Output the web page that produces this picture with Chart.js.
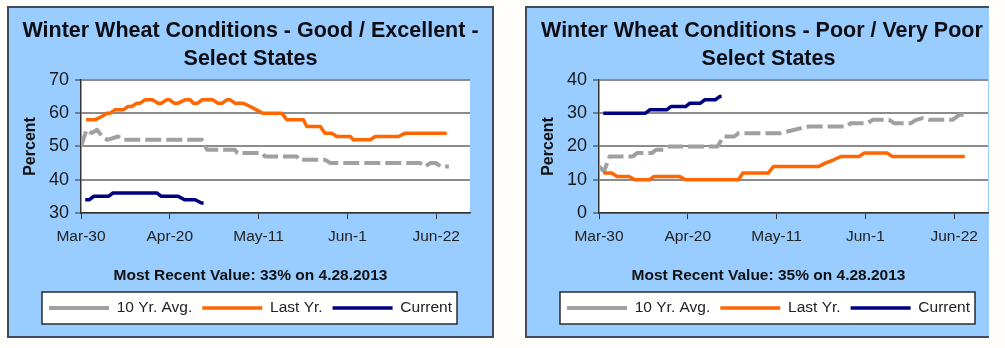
<!DOCTYPE html>
<html>
<head>
<meta charset="utf-8">
<title>Winter Wheat Conditions</title>
<script src="https://cdn.jsdelivr.net/npm/chart.js@4.4.1/dist/chart.umd.min.js"></script>
<style>
    body {
        margin: 0;
        width: 1005px;
        height: 348px;
        overflow: hidden;
        position: relative;
        background: #fffefb;
    }
    .clip {
        position: absolute;
        top: 6px;
        height: 332px;
        overflow: hidden;
    }
    .panel {
        position: absolute;
        left: 0;
        top: 0;
        width: 483px;
        height: 328px;
        background: #99ccff;
        border: 2px solid #3d4b5c;
    }
    .panel canvas { display: block; }
</style>
</head>
<body>
<div class="clip" style="left:7px; width:487px;">
    <div class="panel"><canvas id="goodChart" width="483" height="328"></canvas></div>
</div>
<div class="clip" style="left:525px; width:464px;">
    <div class="panel"><canvas id="poorChart" width="483" height="328"></canvas></div>
</div>
<script>
// x positions are days after Mar-30
const xTickDays = [0, 21, 42, 63, 84];
const xTickLabels = ['Mar-30', 'Apr-20', 'May-11', 'Jun-1', 'Jun-22'];

// Good / Excellent
const goodAvgDays = [0, 1.3, 2.5, 3.8, 5, 6.2, 8.8, 10, 28.6, 29.8, 36.4, 37, 42.8, 43.5, 51, 51.5, 57.7, 59, 80.2, 81.4, 82.6, 84, 85, 87];
const goodAvg     = [50, 55, 54, 55, 53, 52, 53, 52, 52, 49, 49, 48, 48, 47, 47, 46, 46, 45, 45, 44, 45, 45, 44, 44];
const goodLastDays = [1.2, 3.3, 4.9, 6.1, 6.9, 8, 10, 11.1, 12, 13.2, 14, 15.1, 17, 18.2, 19, 20.3, 21, 22, 23, 24.6, 25.8, 26.6, 27.6, 28.6, 31.2, 32.4, 33.4, 34.5, 35.3, 36.4, 38.3, 40, 41.5, 43, 47.5, 48.7, 52.6, 53.4, 56.6, 57.7, 59.3, 60.5, 63.7, 64.4, 68.4, 69.6, 75.1, 76.7, 86.5];
const goodLast     = [58, 58, 59, 60, 60, 61, 61, 62, 62, 63, 63, 64, 64, 63, 63, 64, 64, 63, 63, 64, 64, 63, 63, 64, 64, 63, 63, 64, 64, 63, 63, 62, 61, 60, 60, 58, 58, 56, 56, 54, 54, 53, 53, 52, 52, 53, 53, 54, 54];
const goodCurDays = [1, 2, 3, 6.5, 7.5, 18, 19, 23, 24.5, 27, 28.5, 29];
const goodCur     = [34, 34, 35, 35, 36, 36, 35, 35, 34, 34, 33, 33];

// Poor / Very Poor
const poorAvgDays = [0, 1.2, 2.5, 8, 9, 12.5, 13.5, 15.5, 16.5, 28, 29.5, 32, 33, 43, 44.6, 47.8, 49.7, 58.4, 59.6, 63.5, 64.7, 68.6, 69.8, 73.8, 75, 76.6, 78.1, 83.6, 85.2, 87];
const poorAvg     = [14, 12.5, 17, 17, 18, 18, 19, 19, 20, 20, 23, 23, 24, 24, 24.5, 25.5, 26, 26, 27, 27, 28, 28, 27, 27, 28, 28.5, 28, 28, 29.5, 29.5];
const poorLastDays = [1, 3, 4.3, 7, 8.5, 12, 13, 19, 20.5, 33, 34, 40, 41.3, 52, 53.5, 55.5, 57.3, 61.5, 62.7, 68.2, 69.3, 86.5];
const poorLast     = [12, 12, 11, 11, 10, 10, 11, 11, 10, 10, 12, 12, 14, 14, 15, 16, 17, 17, 18, 18, 17, 17];
const poorCurDays = [1, 11, 12, 16, 17, 20.5, 21.5, 24, 25, 27.5, 28.5, 29];
const poorCur     = [30, 30, 31, 31, 32, 32, 33, 33, 34, 34, 35, 35];

const FONT = 'Arial, "Liberation Sans", Helvetica, sans-serif';
const AVG_COLOR = '#a0a0a0';
const LAST_COLOR = '#ff6600';
const CUR_COLOR = '#000080';

const toPoints = (days, vals) => days.map((d, i) => ({ x: d, y: vals[i] }));

// white plot area and the framed legend box
const panelBackground = {
    id: 'panelBackground',
    beforeDraw(chart) {
        const { ctx, chartArea, legend } = chart;
        ctx.save();
        ctx.fillStyle = '#ffffff';
        ctx.fillRect(chartArea.left, chartArea.top, chartArea.right - chartArea.left, chartArea.bottom - chartArea.top);

        const boxes = legend.legendHitBoxes;
        if (boxes && boxes.length) {
            const left = Math.min(...boxes.map(b => b.left)) - 7;
            const right = Math.max(...boxes.map(b => b.left + b.width)) + 5;
            const mid = boxes[0].top + boxes[0].height / 2;
            ctx.fillRect(left, mid - 16, right - left, 32);
            ctx.strokeStyle = '#2b2b2b';
            ctx.lineWidth = 1.5;
            ctx.strokeRect(left, mid - 16, right - left, 32);
        }
        ctx.restore();
    }
};

function buildChart(canvasId, cfg) {
    const canvas = document.getElementById(canvasId);
    return new Chart(canvas, {
        type: 'line',
        data: {
            datasets: [
                {
                    label: '10 Yr. Avg.',
                    data: toPoints(cfg.avgDays, cfg.avg),
                    borderColor: AVG_COLOR,
                    borderWidth: 4,
                    borderDash: [16, 5],
                    order: 3
                },
                {
                    label: 'Last Yr.',
                    data: toPoints(cfg.lastDays, cfg.last),
                    borderColor: LAST_COLOR,
                    borderWidth: 3.5,
                    order: 2
                },
                {
                    label: 'Current',
                    data: toPoints(cfg.curDays, cfg.cur),
                    borderColor: CUR_COLOR,
                    borderWidth: 3.5,
                    order: 1
                }
            ]
        },
        options: {
            responsive: false,
            animation: false,
            events: [],
            elements: {
                point: { radius: 0 },
                line: { tension: 0, borderJoinStyle: 'round', fill: false }
            },
            layout: { padding: { left: 0, right: 0, top: 0, bottom: 10.25 } },
            scales: {
                x: {
                    type: 'linear',
                    min: 0,
                    max: 92,
                    afterBuildTicks(scale) {
                        scale.ticks = xTickDays.map(v => ({ value: v }));
                    },
                    ticks: {
                        autoSkip: false,
                        maxRotation: 0,
                        padding: 8,
                        color: '#222',
                        font: { family: FONT, size: 15.5 },
                        callback: (value, index) => xTickLabels[index]
                    },
                    grid: { drawOnChartArea: false, drawTicks: true, tickLength: 6, color: '#333', lineWidth: 1 },
                    border: { color: '#333', width: 1.5 }
                },
                y: {
                    min: cfg.yMin,
                    max: cfg.yMax,
                    ticks: {
                        stepSize: 10,
                        padding: 6,
                        color: '#1a1a1a',
                        font: { family: FONT, size: 18 }
                    },
                    grid: { color: '#8c8c8c', lineWidth: 2, tickColor: '#333', tickLength: 6, tickWidth: 1 },
                    border: { color: '#333', width: 1.5 },
                    title: {
                        display: true,
                        text: 'Percent',
                        color: '#111',
                        font: { family: FONT, size: 16, weight: 'bold' },
                        padding: { top: 11.5, bottom: 0 }
                    },
                    afterFit(scale) { scale.width = 72; }
                },
                // keeps the plot clear of the right edge
                yRight: {
                    position: 'right',
                    display: true,
                    ticks: { display: false },
                    grid: { display: false },
                    border: { display: false },
                    afterFit(scale) { scale.width = 22; }
                }
            },
            plugins: {
                tooltip: { enabled: false },
                title: {
                    display: true,
                    text: [cfg.title, 'Select States'],
                    color: '#0d0d14',
                    font: { family: FONT, size: 21.5, weight: 'bold', lineHeight: 1.3 },
                    padding: { top: 9.5, bottom: 6.5 }
                },
                subtitle: {
                    display: true,
                    position: 'bottom',
                    weight: 500,
                    text: cfg.recent,
                    color: '#111',
                    font: { family: FONT, size: 15.5, weight: 'bold' },
                    padding: { top: 13, bottom: 5.05 }
                },
                legend: {
                    position: 'bottom',
                    weight: 1000,
                    labels: {
                        usePointStyle: true,
                        pointStyle: 'line',
                        pointStyleWidth: 60,
                        padding: 10,
                        color: '#222',
                        font: { family: FONT, size: 15.5 },
                        sort: (a, b) => a.datasetIndex - b.datasetIndex,
                        generateLabels(chart) {
                            const items = Chart.defaults.plugins.legend.labels.generateLabels(chart);
                            // the legend sample is stroked right to left
                            items.forEach(item => {
                                if (item.lineDash && item.lineDash.length) item.lineDash = [22, 14];
                            });
                            return items;
                        }
                    }
                }
            }
        },
        plugins: [panelBackground]
    });
}

buildChart('goodChart', {
    title: 'Winter Wheat Conditions - Good / Excellent -',
    recent: 'Most Recent Value: 33% on 4.28.2013',
    yMin: 30, yMax: 70,
    avgDays: goodAvgDays, avg: goodAvg,
    lastDays: goodLastDays, last: goodLast,
    curDays: goodCurDays, cur: goodCur
});

buildChart('poorChart', {
    title: 'Winter Wheat Conditions - Poor / Very Poor -',
    recent: 'Most Recent Value: 35% on 4.28.2013',
    yMin: 0, yMax: 40,
    avgDays: poorAvgDays, avg: poorAvg,
    lastDays: poorLastDays, last: poorLast,
    curDays: poorCurDays, cur: poorCur
});
</script>
</body>
</html>
